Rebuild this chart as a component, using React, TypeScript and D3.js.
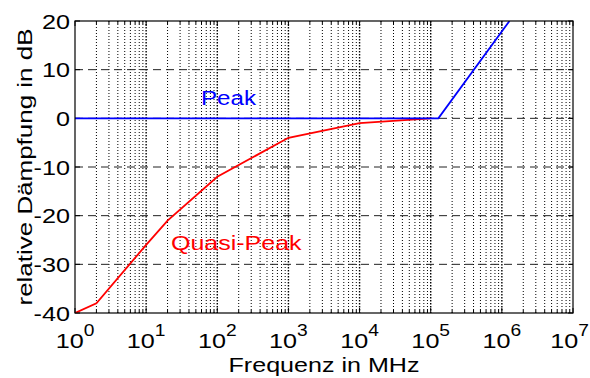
import React from 'react';
import * as d3 from 'd3';

// ---- data ----
const xTickExponents = [0, 1, 2, 3, 4, 5, 6, 7];
const yTicks = [20, 10, 0, -10, -20, -30, -40];
const peakFreq = [1, 1.28e5, 1.28e6];
const peakDb = [0, 0, 20];
const quasiFreq = [1, 2, 10, 20, 100, 1000, 10000, 100000];
const quasiDb = [-40, -38, -26, -21, -12, -4, -1, 0];

const W = 590;
const H = 378;
const L = 75, R = 573, T = 21, B = 313;
const FONT = '"Liberation Sans", Arial, Helvetica, sans-serif';

export default function App() {
  const x = d3.scaleLog().domain([1, 1e7]).range([L, R]);
  const y = d3.scaleLinear().domain([-40, 20]).range([B, T]);

  const majors = xTickExponents.map((e) => Math.pow(10, e));
  const minors: number[] = [];
  for (let k = 0; k < 7; k++) for (let m = 2; m <= 9; m++) minors.push(m * Math.pow(10, k));

  const line = d3
    .line<[number, number]>()
    .x((d) => x(d[0]))
    .y((d) => y(d[1]));
  const peakPath = line(peakFreq.map((f, i) => [f, peakDb[i]] as [number, number])) || '';
  const quasiPath = line(quasiFreq.map((f, i) => [f, quasiDb[i]] as [number, number])) || '';

  const sx = 1.2;

  return (
    <div style={{ position: 'absolute', left: 0, top: 0 }}>
      <svg width={W} height={H} style={{ display: 'block', background: '#fff' }} fontFamily={FONT}>
        <rect x={0} y={0} width={W} height={H} fill="#fff" />
        <defs>
          <clipPath id="plotclip">
            <rect x={L} y={T} width={R - L} height={B - T} />
          </clipPath>
        </defs>
        {/* minor vertical grid */}
        {minors.map((f, i) => (
          <line key={'mg' + i} x1={x(f)} x2={x(f)} y1={T} y2={B} stroke="#000" strokeWidth={1} strokeDasharray="1,2" />
        ))}
        {/* major vertical grid */}
        {majors.slice(1, -1).map((f, i) => (
          <line key={'Mg' + i} x1={x(f)} x2={x(f)} y1={T} y2={B} stroke="#000" strokeWidth={1.4} strokeDasharray="1.5,1.5" />
        ))}
        {/* horizontal grid */}
        {yTicks.slice(1, -1).map((v, i) => (
          <line key={'hg' + i} x1={L} x2={R} y1={y(v)} y2={y(v)} stroke="#222" strokeWidth={1} strokeDasharray="8,5" />
        ))}
        {/* ticks */}
        {majors.map((f, i) => (
          <g key={'xt' + i}>
            <line x1={x(f)} x2={x(f)} y1={B} y2={B - 5} stroke="#000" />
            <line x1={x(f)} x2={x(f)} y1={T} y2={T + 5} stroke="#000" />
          </g>
        ))}
        {minors.map((f, i) => (
          <g key={'xmt' + i}>
            <line x1={x(f)} x2={x(f)} y1={B} y2={B - 3} stroke="#000" />
            <line x1={x(f)} x2={x(f)} y1={T} y2={T + 3} stroke="#000" />
          </g>
        ))}
        {yTicks.map((v, i) => (
          <g key={'yt' + i}>
            <line x1={L} x2={L + 5} y1={y(v)} y2={y(v)} stroke="#000" />
            <line x1={R} x2={R - 5} y1={y(v)} y2={y(v)} stroke="#000" />
          </g>
        ))}
        {/* data lines */}
        <g clipPath="url(#plotclip)">
          <path d={quasiPath} fill="none" stroke="#ff0000" strokeWidth={1.8} />
          <path d={peakPath} fill="none" stroke="#0000ff" strokeWidth={1.8} />
        </g>
        {/* axes box */}
        <rect x={L} y={T} width={R - L} height={B - T} fill="none" stroke="#000" strokeWidth={1.2} />
        {/* y tick labels */}
        {yTicks.map((v, i) => (
          <g key={'yl' + i} transform={`translate(${L - 5},${y(v)}) scale(${sx},1)`}>
            <text x={0} y={0} dy="0.36em" textAnchor="end" fontSize={21} fill="#000">
              {v < 0 ? '-' + Math.abs(v) : String(v)}
            </text>
          </g>
        ))}
        {/* x tick labels */}
        {xTickExponents.map((e, i) => {
          const baseW = 2 * 0.556 * 21 * sx;
          const expW = 0.556 * 16 * sx;
          const start = Math.min(x(Math.pow(10, e)) - (baseW + expW) / 2, W - 1 - baseW - expW);
          return (
            <g key={'xl' + i} transform={`translate(${start},348) scale(${sx},1)`}>
              <text x={0} y={0} fontSize={21} fill="#000">
                10
              </text>
              <text x={2 * 0.556 * 21} y={-12} fontSize={16} fill="#000">
                {String(e)}
              </text>
            </g>
          );
        })}
        {/* series labels */}
        <g transform={`translate(201,105) scale(1.15,1)`}>
          <text x={0} y={0} fontSize={21} fill="#0000ff">Peak</text>
        </g>
        <g transform={`translate(171,250) scale(1.19,1)`}>
          <text x={0} y={0} fontSize={21} fill="#ff0000">Quasi-Peak</text>
        </g>
        {/* axis titles */}
        <text x={(L + R) / 2} y={372} textAnchor="middle" fontSize={21} fill="#000" textLength={191} lengthAdjust="spacingAndGlyphs">
          Frequenz in MHz
        </text>
        <text
          transform={`translate(32,${(T + B) / 2}) rotate(-90)`}
          textAnchor="middle"
          fontSize={21}
          fill="#000"
          textLength={277}
          lengthAdjust="spacingAndGlyphs"
        >
          relative Dämpfung in dB
        </text>
      </svg>
    </div>
  );
}
